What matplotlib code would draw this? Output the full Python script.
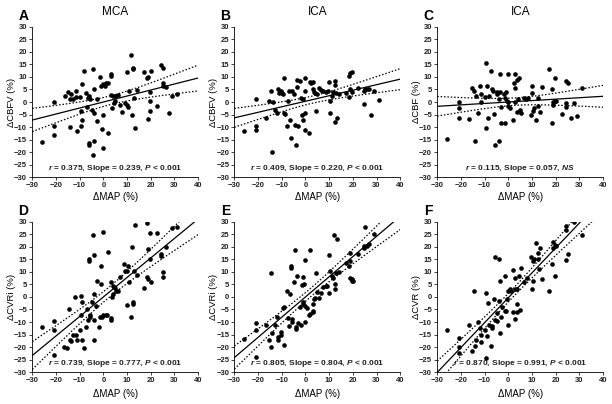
import matplotlib
matplotlib.use('Agg')
import matplotlib.pyplot as plt
import numpy as np

plt.rcParams['font.family'] = ['Liberation Sans', 'DejaVu Sans']
plt.rcParams['mathtext.fontset'] = 'custom'
plt.rcParams['mathtext.rm'] = 'Liberation Sans:bold'
plt.rcParams['mathtext.it'] = 'Liberation Sans:italic:bold'

# panel A - MCA, dCBFV
a_pts = [(-26, -16), (-21, 0), (-21, -9.5), (-21, -13), (-16, 2.3), (-15, 4), (-14, 1.2), (-13.5, 3),
         (-14, -10), (-13, 1), (-11.5, 4.5), (-11.5, 2), (-11, -11.5), (-10, 2), (-9.5, -3.5), (-9.5, -9.5),
         (-9, 7.3), (-9, -7), (-8, 12.3), (-7.5, 3.5), (-7, -2), (-6.5, 1.5), (-6, 2.2), (-6, -16.3),
         (-6, -17), (-5.5, 1.3), (-5, -3), (-4.5, 13.3), (-4, 5), (-4, -4.5), (-4, -15.5), (-4.5, -21),
         (-2.5, 1), (-2.5, -7.5), (-1.5, 10), (-1, 6.3), (-0.5, -10.7), (0, 7), (0, -5), (0, -18.5),
         (0.5, 6.5), (1, 7.7), (2, -12.3), (2, 7.7), (3, 11), (3, 10.5), (3, 2.7), (3.5, -2.3), (4, 2.3),
         (4.5, -0.5), (5, 0.5), (5, 2.5), (6, 2.8), (7, -1), (8, -4), (9, -0.5), (10, 12), (10, -1),
         (10.5, -2), (11, 4.3), (11.5, 18.7), (12, -5.3), (12.5, 13), (12.5, 13.5), (13, 1.7), (13.5, -10.2),
         (14, 4.7), (17, 12), (18.5, 9.5), (19, 10), (19, -6.8), (19.5, 0.5), (19.5, -3.7), (19.5, 4),
         (20, 12.5), (22.5, -1.5), (24.5, 14.7), (25, 7.5), (25, 6.5), (25, 13.7), (26.5, 6), (27.5, -4.2),
         (29, 2.3), (31, 3.2)]

# panel B - ICA, dCBFV
b_pts = [(-26, -11.7), (-21, 1), (-21, -9.6), (-21, -11.3), (-16.5, -6.3), (-15.5, 0.5), (-14.5, 4.5),
         (-14, -19.8), (-13.5, 0), (-13, -3.2), (-12, -4.5), (-11.5, 5), (-11, 3.7), (-10.5, 4.5), (-10, 3.5),
         (-9.5, 3), (-9, 9.5), (-9, -4.5), (-8.5, -4.7), (-8, -9.5), (-7.5, 0.5), (-7, 4.2), (-6.5, -7),
         (-6, -14.3), (-5.5, 4.2), (-5, 3), (-4.5, -9), (-4, -17), (-3.5, 8.7), (-3.5, 6), (-3, -9.5),
         (-2.5, 8.5), (-2, 1.5), (-1.5, -5.3), (-1, 1), (-1, -7.2), (0, 9.5), (0, 4.5), (0, -4.5), (0, -11),
         (1.5, -12.3), (2, 8), (2.5, 7.7), (3, 8), (3, 5), (3.5, 4), (4, 3.5), (4.5, -3.5), (5, 3),
         (5.5, 5.5), (6.5, 4.8), (7.5, 4.5), (8.5, 4), (9.5, 4.5), (10, 7.8), (10.5, -4.3), (10.5, 0.5),
         (11, 2.3), (11.5, 4), (12.5, -8), (12.5, 8.5), (12.5, 6.7), (13, 3.5), (13.5, -6.2), (14, 3),
         (17, 3.5), (18.5, 10.5), (18.5, 2), (19, 11.5), (19, 5), (19.5, 12), (19.5, 4), (22, 5.5),
         (24.5, -0.8), (24.5, 4.5), (25, 5), (26, 5), (27, 5.3), (27.5, -5.2), (29, 4.3), (31, 0.7)]

# panel C - ICA, dCBF
c_pts = [(-26, -14.8), (-21, 0), (-21, -2.5), (-21, -6.3), (-16.5, -6.7), (-15.5, 5.7), (-14.5, 4.5),
         (-14, -15.5), (-13.5, 2.2), (-13, -4.2), (-12, 6.2), (-11.5, 3.2), (-11.5, 0), (-10, 2),
         (-9.5, 15.7), (-9.5, -10.5), (-9, 6.2), (-8.5, -6.5), (-8, 2.2), (-7.5, 12.5), (-7, 5.3),
         (-6.5, 4.5), (-6, -4.8), (-5.5, -17.2), (-5, 3.3), (-5, 4), (-4, -15.5), (-4, 1.3), (-3.5, 11),
         (-3.5, 3.8), (-3, -2), (-3, -8.2), (-2, 3.3), (-1.5, 1.5), (-1.5, -8.3), (-1, 4), (-0.5, 0.5),
         (0, 0), (0, 11), (0, -1.7), (0.5, -2.3), (2, -7.2), (2.5, 7.5), (3, 11.2), (3, 5.5), (3, 0),
         (3.5, -3.8), (3.5, 8.7), (4, 1), (4.5, 9.5), (5, -3), (5.5, -4.5), (6.5, 1.5), (7.5, 1.3),
         (8.5, 1.5), (9.5, -5), (10, 6.2), (10, 3.5), (10.5, -3.5), (11, -2.5), (11.5, -7), (12.5, -1.7),
         (12.5, 1.7), (13.5, -4), (14, 6), (17, 13.2), (18.5, -8.5), (18.5, 5), (19, -1.2), (19, 0),
         (19.5, 9.7), (19.5, 0.5), (20, 0.5), (22.5, -4.7), (24.5, 8.5), (25, 7.5), (24.5, -0.5),
         (24.5, -1.8), (26.5, -6.4), (27.5, -0.3), (29, -5.7), (31, 5.5)]

# panel D - MCA, dCVRi
d_pts = [(-26, -12), (-21, -9.5), (-21, -13), (-21, -23), (-16.5, -20), (-15.5, -20.5), (-14.5, -5),
         (-14, -17), (-13.5, -17.5), (-13, -15), (-12, 0), (-11.5, -15), (-11, -17), (-10, -13),
         (-9.5, 0.5), (-9.5, -7.3), (-9, -2), (-9, -17), (-8, -20.2), (-7.5, -12), (-7, -5), (-6.5, -9),
         (-6, 15.3), (-6, 14.5), (-5.5, -8), (-5.5, -7), (-5, -2), (-4.5, 24.5), (-4, 16.5), (-4, 1.3),
         (-4, -9), (-4, -17), (-3, -3.7), (-2.5, 6.2), (-2, -12), (-1.5, -8), (-1, 12.2), (-1, 5.2),
         (0, 25.8), (-0.5, -8), (0, -7), (1, -7), (1.5, -7), (2, 18), (3, -8.5), (3, -9), (3, 5.8),
         (3.5, 0), (4, 4.5), (4, 1), (4.5, 4), (5, 3.7), (5.5, 2.3), (6, 2.2), (7, 8), (8.5, 13.3),
         (9, 10.3), (10, 10.5), (10, -3.2), (10.5, 12.5), (11, 6), (11.5, -8), (12, 20), (12.5, -2),
         (12.5, -2.7), (13, 10.5), (13.5, 28.7), (14, 8.8), (17, 3.5), (18.5, 29.3), (18.5, 8), (19, 7.3),
         (19, 19), (19.5, 25.3), (19.5, 15), (20, 6), (22.5, 25.5), (24.5, 17), (24.5, 16.2), (25, 8),
         (25, 9.8), (26.5, 20), (29, 27.3), (31, 27.8)]

# panel E - ICA, dCVRi
e_pts = [(-26, -16.7), (-21, -10.5), (-21, -13), (-21, -23.8), (-16.5, -11.3), (-15.5, -17.3),
         (-14.5, 9.7), (-14.5, -19.8), (-14, -14.3), (-13, -11), (-12, -8), (-11.5, -16), (-11.5, -17),
         (-10.5, -14), (-10.5, -15), (-9.5, -4.5), (-9, -4), (-9, -19), (-8, 2.5), (-7.5, -8.5),
         (-7, -11.7), (-6.5, 1.2), (-6, 12.3), (-6, 11.5), (-5.5, -8.8), (-5.5, -10), (-5, 6),
         (-4.5, 18.5), (-4, -12), (-4, -12.8), (-3.5, 8.3), (-3, -10.5), (-2.5, -4), (-2, -11),
         (-1.5, 4.7), (-1, 7.8), (-1, -2), (-0.5, 5), (-1, -3), (0, -10), (0, -3.5), (0, 14.7),
         (0.5, -4.5), (1.5, -7), (2, 18.7), (2, -6.7), (3, -5.5), (3, -6), (3, -2.7), (3.5, -0.7),
         (4, -0.5), (4.5, 9.5), (5, 2), (5.5, -0.3), (6.5, 1.7), (7.5, 4), (8.5, 4.3), (9, 4.3), (10, 1.5),
         (10, 16.5), (10.5, 10.5), (11, 8.5), (11.5, 7.5), (12, 24.5), (12.5, 3), (12.5, 5.3), (13, 9.5),
         (13.5, 23), (14, 10), (17, 13.7), (18.5, 12.5), (19, 17.3), (19, 7.5), (19, 14.5), (19.5, 6.5),
         (19.5, 7), (20, 6.3), (22, 17), (24.5, 19.5), (24.5, 20.3), (25, 27.7), (26, 20.3), (27, 21),
         (29, 25)]

# panel F - ICA, dCVR
f_pts = [(-26, -13.3), (-21, -16.5), (-21, -20), (-21, -22.3), (-16.5, -11), (-15.5, -21.5),
         (-14.5, 2.5), (-14, -19.5), (-13.5, -17), (-13, -9.8), (-12, -12.5), (-11.5, -15.3),
         (-11.5, -18), (-10, -13), (-9.5, 1.7), (-9.5, -24.3), (-9, -15.7), (-8.5, -2.3), (-8, -11),
         (-7.5, -19.5), (-7, -12.3), (-7, -11.5), (-6, -0.8), (-5.5, 16), (-5.5, -9), (-5, -9.5),
         (-5, -6.3), (-4, 15.3), (-4, -1.5), (-3.5, -14.5), (-3.5, 6.2), (-3, -8), (-2.5, -4),
         (-1.5, 8.3), (-1.5, -5.5), (-1, -5.7), (-0.5, -0.8), (0, 2.5), (0, -11.3), (0.5, 3.3), (1, 2.3),
         (2, 10.7), (2, -6), (3, 7.5), (3, -8.8), (3, 3.3), (3.5, -6), (3.5, -2.7), (3.5, 3), (4.5, 8.5),
         (5, -5.3), (5.5, 11.5), (6.5, 5.8), (8, 7.5), (9.5, 16), (10, 3), (10.5, 6.5), (10.5, 14.5),
         (11, 15), (11.5, 21.3), (12.5, 17.5), (12.5, 15.3), (13, 11), (13.5, 19.5), (14, 7), (17, 2.5),
         (18.5, 13), (19, 21.7), (19, 19.5), (19.5, 20.5), (19.5, 8.5), (20, 20.2), (24.5, 28.3),
         (24.5, 26.5), (24.5, 14.7), (25, 17), (27.5, 29.7), (31, 24.7)]

letters = ['A', 'B', 'C', 'D', 'E', 'F']
titles = ['MCA', 'ICA', 'ICA', '', '', '']
ylabels = ['\u0394CBFV (%)', '\u0394CBFV (%)', '\u0394CBF (%)', '\u0394CVRi (%)', '\u0394CVRi (%)', '\u0394CVR (%)']
r_vals = ['0.375', '0.409', '0.115', '0.739', '0.805', '0.870']
slopes = [0.239, 0.220, 0.057, 0.777, 0.804, 0.991]
intercepts = [0.0, 0.3, 0.0, 0.0, 0.0, -0.3]
p_text = ['$\\it{P}$ < 0.001', '$\\it{P}$ < 0.001', '$\\it{NS}$', '$\\it{P}$ < 0.001', '$\\it{P}$ < 0.001', '$\\it{P}$ < 0.001']
all_pts = [a_pts, b_pts, c_pts, d_pts, e_pts, f_pts]

fig = plt.figure(figsize=(6.12, 4.04), dpi=100)
lefts = [0.0528, 0.383, 0.7145]
bottoms = [0.561, 0.0785]
w, h = 0.271, 0.373
xlab_y = [-0.131, -0.144]

for i in range(6):
    row, col = i // 3, i % 3
    ax = fig.add_axes([lefts[col], bottoms[row], w, h])
    pts = np.array(all_pts[i])
    x, y = pts[:, 0], pts[:, 1]
    ax.scatter(x, y, s=11, color='black', zorder=3, linewidths=0)

    # regression line + 95% confidence band
    m, b = slopes[i], intercepts[i]
    xx = np.linspace(-30, 40, 200)
    yy = m * xx + b
    resid = y - (m * x + b)
    n = len(x)
    s = np.sqrt(np.sum(resid ** 2) / (n - 2))
    sxx = np.sum((x - x.mean()) ** 2)
    hw = 1.99 * s * np.sqrt(1 / n + (xx - x.mean()) ** 2 / sxx)
    ax.plot(xx, yy, color='black', lw=0.9)
    ax.plot(xx, yy + hw, color='black', lw=0.9, ls=(0, (1.2, 1.5)))
    ax.plot(xx, yy - hw, color='black', lw=0.9, ls=(0, (1.2, 1.5)))

    ax.set_xlim(-30, 40)
    ax.set_ylim(-30, 30)
    ax.set_xticks(range(-30, 41, 10))
    ax.set_yticks(range(-30, 31, 5))
    for sp in ['top', 'right']:
        ax.spines[sp].set_visible(False)
    ax.spines['left'].set_linewidth(0.6)
    ax.spines['bottom'].set_linewidth(0.6)
    ax.tick_params(direction='out', length=2.5, width=0.6, labelsize=5.5, pad=1.2, colors='#222222')
    for lab in ax.get_xticklabels() + ax.get_yticklabels():
        lab.set_fontweight('bold')
    ax.set_xlabel('\u0394MAP (%)', fontsize=7, va='center')
    ax.set_ylabel(ylabels[i], fontsize=6.8, va='center')
    ax.xaxis.set_label_coords(0.5, xlab_y[row])
    ax.yaxis.set_label_coords(-0.125, 0.5)

    ax.text(0.5, 0.058, '$\\it{r}$ = ' + r_vals[i] + ', Slope = ' + '%.3f' % m + ', ' + p_text[i],
            transform=ax.transAxes, ha='center', va='center', fontsize=6, fontweight='bold',
            color='#222222')
    ax.text(-0.055, 1.07, letters[i], transform=ax.transAxes, fontsize=10, fontweight='bold',
            ha='center', va='center')
    if titles[i]:
        ax.text(0.5, 1.1, titles[i], transform=ax.transAxes, fontsize=8.5, ha='center', va='center')

fig.savefig('out.png', dpi=100)
